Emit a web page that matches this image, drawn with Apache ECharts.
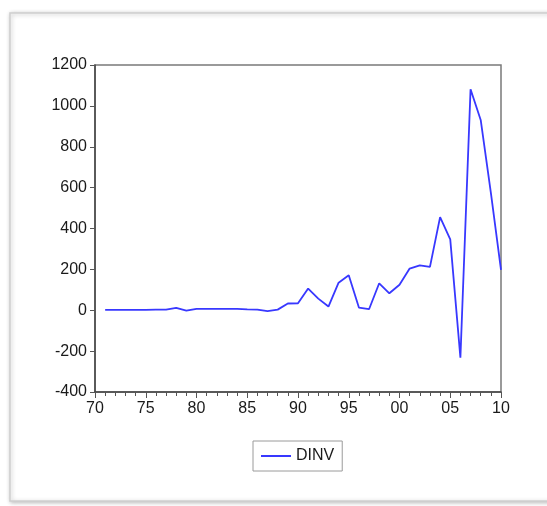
<!DOCTYPE html>
<html>
<head>
<meta charset="utf-8">
<script src="https://cdn.jsdelivr.net/npm/echarts@6/dist/echarts.min.js"></script>
<style>
  html, body { margin: 0; padding: 0; background: #ffffff; }
  #chart { width: 547px; height: 506px; }
</style>
</head>
<body>
<div id="chart"></div>
<script>
// Annual observations, 1971-2010
const years = [1971, 1972, 1973, 1974, 1975, 1976, 1977, 1978, 1979, 1980,
               1981, 1982, 1983, 1984, 1985, 1986, 1987, 1988, 1989, 1990,
               1991, 1992, 1993, 1994, 1995, 1996, 1997, 1998, 1999, 2000,
               2001, 2002, 2003, 2004, 2005, 2006, 2007, 2008, 2009, 2010];
const dinv = [2, 2, 2, 2, 2, 3, 3, 12, -2, 7,
              7, 7, 7, 7, 4, 3, -4, 3, 33, 34,
              106, 57, 18, 135, 171, 13, 5, 132, 83, 125,
              204, 220, 212, 456, 347, -232, 1081, 931, 575, 197];
const seriesName = 'DINV';
const yTicks = [-400, -200, 0, 200, 400, 600, 800, 1000, 1200];

const chart = echarts.init(document.getElementById('chart'));
const font = 'Liberation Sans, Arial, sans-serif';

chart.setOption({
  backgroundColor: '#ffffff',
  animation: false,
  graphic: [
    {
      type: 'rect',
      shape: { x: 10, y: 13, width: 560, height: 488 },
      style: {
        fill: '#ffffff',
        stroke: '#cfcfcf',
        lineWidth: 1.5,
        shadowBlur: 4,
        shadowColor: 'rgba(0,0,0,0.25)',
        shadowOffsetX: 1,
        shadowOffsetY: 1
      },
      z: -10
    }
  ],
  grid: {
    left: 95, top: 65, right: 46, bottom: 114,
    show: true,
    borderColor: '#7a7a7a',
    borderWidth: 1.5,
    backgroundColor: 'transparent'
  },
  legend: {
    show: true,
    data: [seriesName],
    left: 253,
    top: 441,
    orient: 'horizontal',
    itemWidth: 30,
    itemHeight: 2,
    itemGap: 7,
    padding: [7, 8, 7, 8],
    borderColor: '#9a9a9a',
    borderWidth: 1,
    icon: 'rect',
    textStyle: { fontFamily: font, fontSize: 16, color: '#1a1a1a' }
  },
  xAxis: {
    type: 'value',
    min: 1970,
    max: 2010,
    interval: 5,
    minorTick: { show: true, splitNumber: 5, length: 4, lineStyle: { color: '#555', width: 1 } },
    splitLine: { show: false },
    axisLine: { show: true, onZero: false, lineStyle: { color: '#444', width: 1.5 } },
    axisTick: { show: true, inside: false, length: 6, lineStyle: { color: '#555', width: 1 } },
    axisLabel: {
      margin: 9,
      fontFamily: font,
      fontSize: 16,
      color: '#1a1a1a',
      formatter: v => String(v % 100).padStart(2, '0')
    }
  },
  yAxis: {
    type: 'value',
    min: yTicks[0],
    max: yTicks[yTicks.length - 1],
    interval: 200,
    splitLine: { show: false },
    axisLine: { show: true, onZero: false, lineStyle: { color: '#444', width: 1.5 } },
    axisTick: { show: true, inside: false, length: 5, lineStyle: { color: '#555', width: 1 } },
    axisLabel: {
      margin: 8,
      fontFamily: font,
      fontSize: 16,
      color: '#1a1a1a',
      formatter: v => String(v)
    }
  },
  series: [
    {
      name: seriesName,
      type: 'line',
      data: years.map((y, i) => [y, dinv[i]]),
      showSymbol: false,
      symbol: 'none',
      lineStyle: { color: '#3838ff', width: 1.8 },
      itemStyle: { color: '#3838ff' }
    }
  ]
});
</script>
</body>
</html>
